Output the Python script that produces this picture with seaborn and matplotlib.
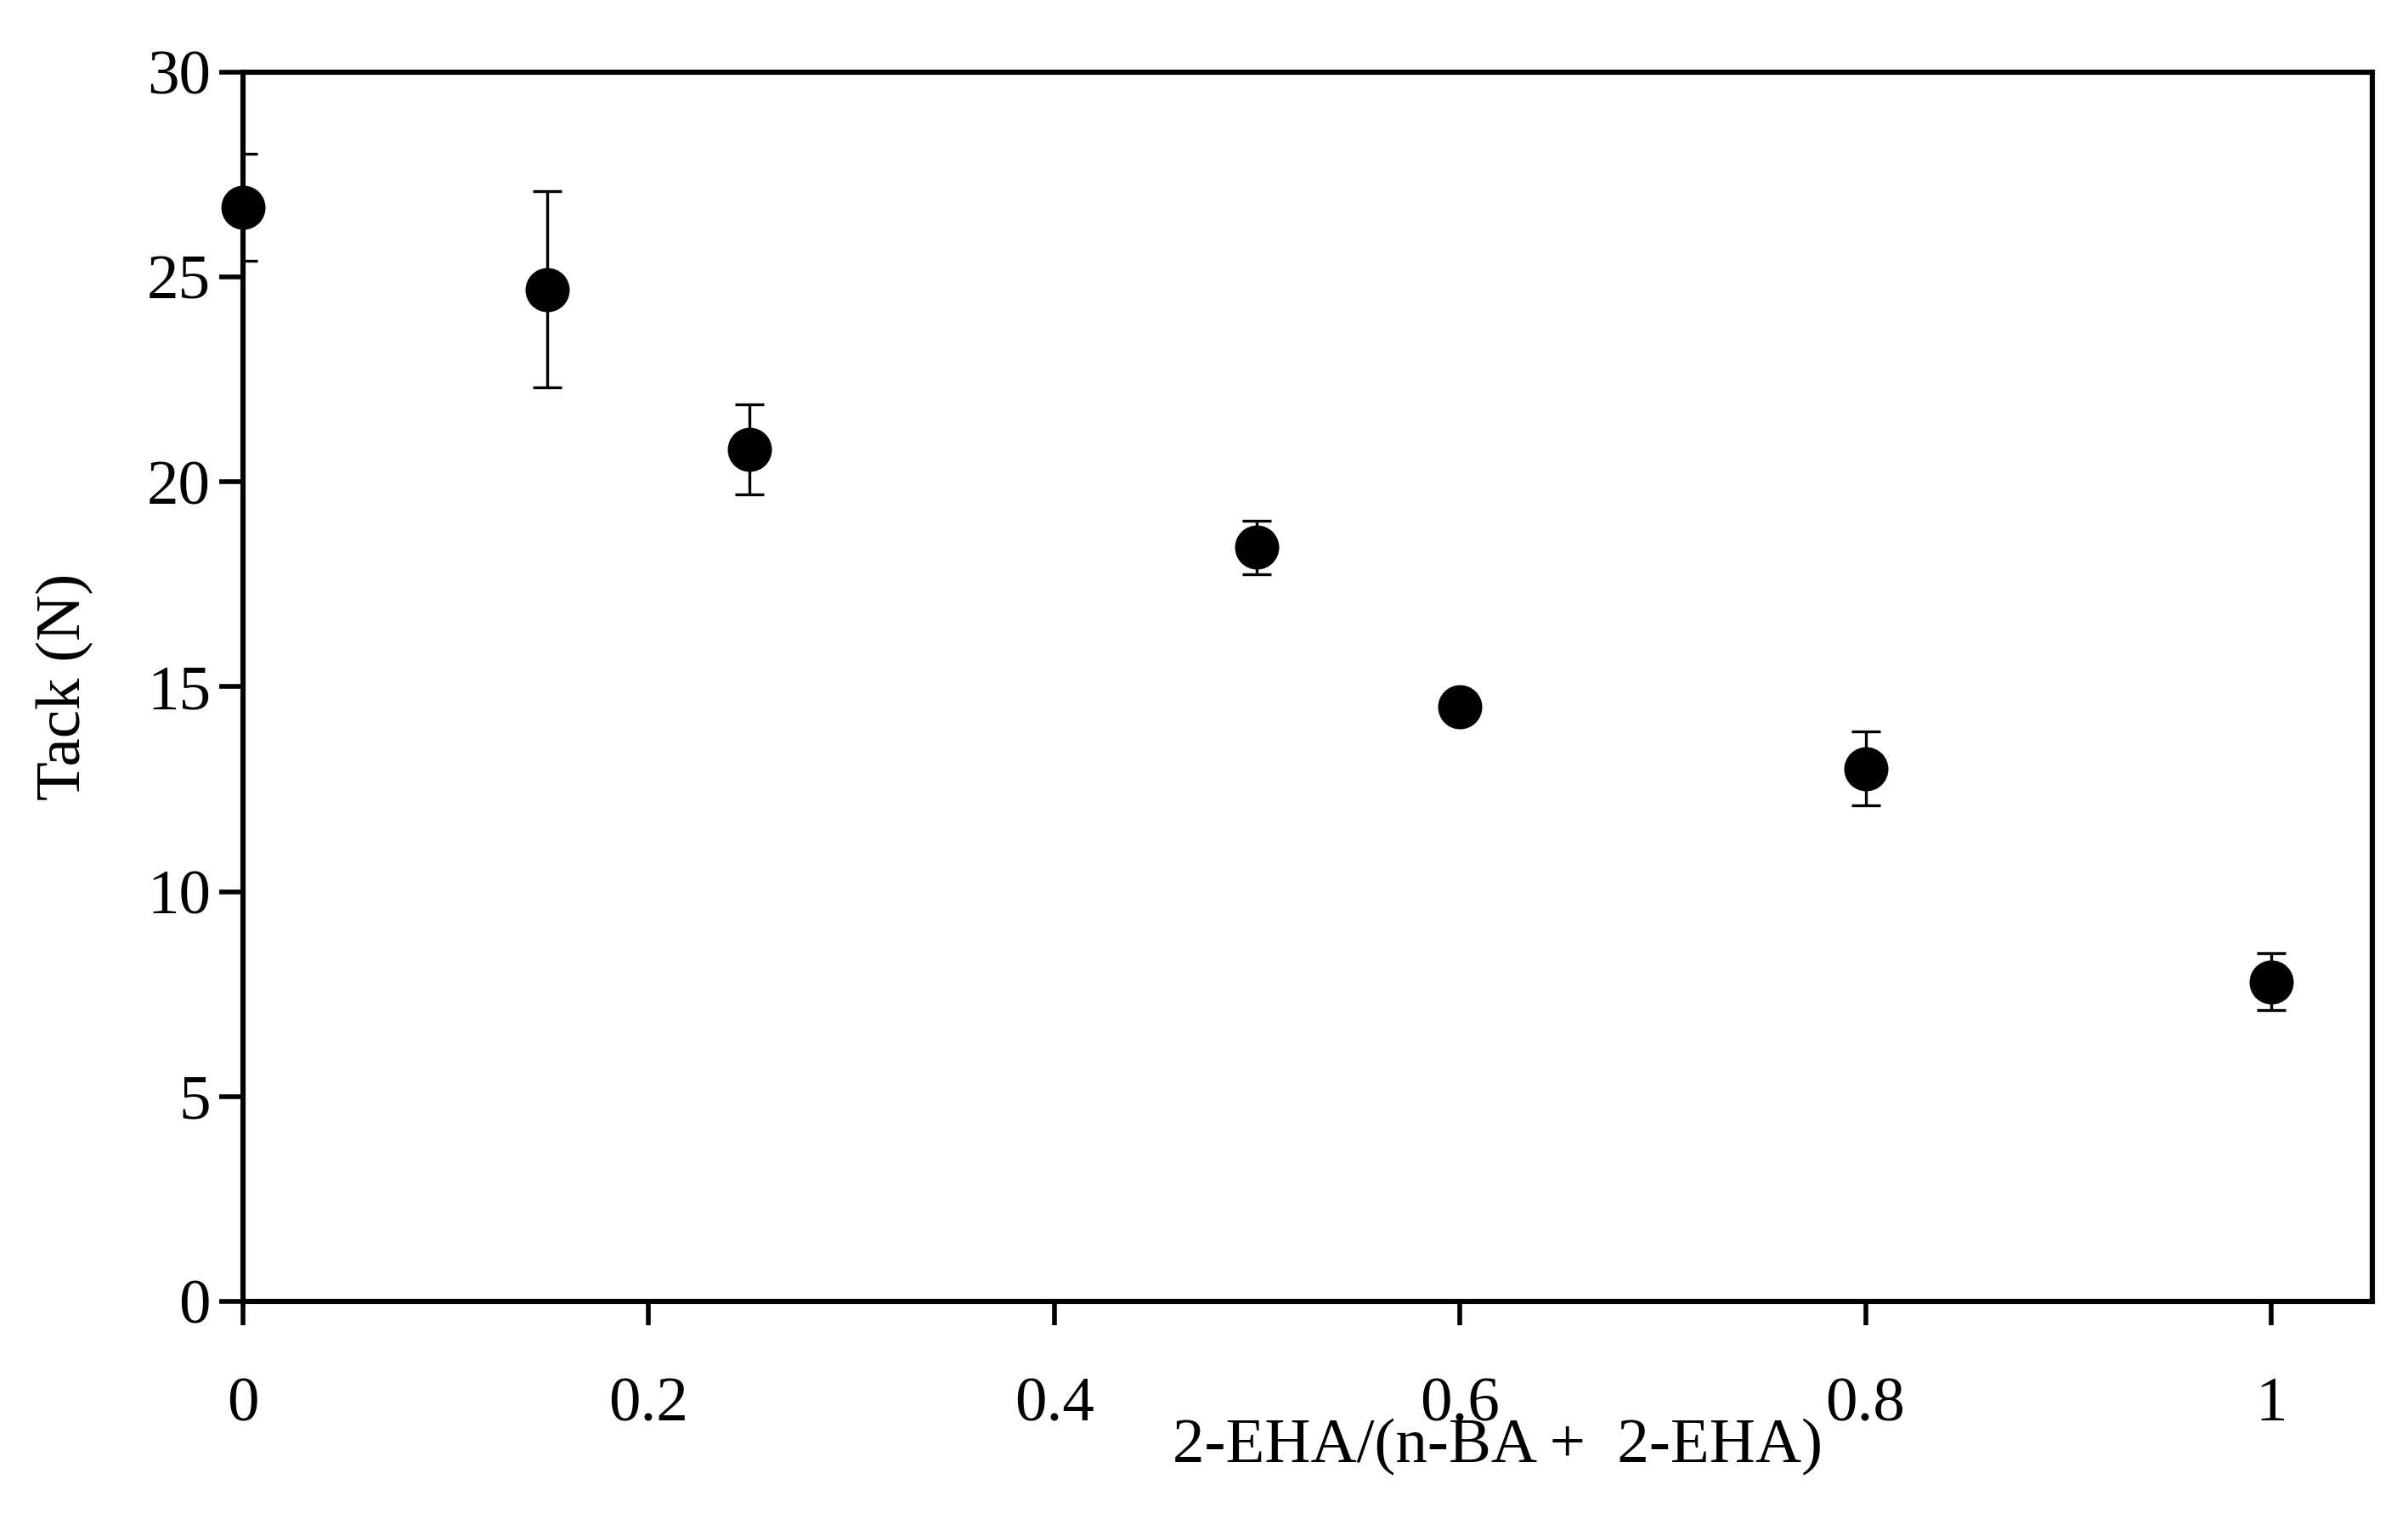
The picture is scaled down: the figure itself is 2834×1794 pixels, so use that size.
import numpy as np
import pandas as pd
import matplotlib.pyplot as plt
import seaborn as sns

# --- data ---
ratio = [0.0, 0.15, 0.25, 0.5, 0.6, 0.8, 1.0]
tack = [26.7, 24.7, 20.8, 18.4, 14.5, 13.0, 7.8]
tack_err = [1.3, 2.4, 1.1, 0.65, 0.3, 0.9, 0.7]

df = pd.DataFrame({'ratio': ratio, 'tack': tack, 'err': tack_err})

sns.set_style('ticks')
plt.rcParams['font.family'] = ['Liberation Serif', 'DejaVu Serif']
plt.rcParams['text.color'] = 'black'
plt.rcParams['xtick.color'] = 'black'
plt.rcParams['ytick.color'] = 'black'
plt.rcParams['axes.labelcolor'] = 'black'

fig = plt.figure(figsize=(14.17, 8.97), dpi=200)
ax = fig.add_axes([158 / 1568, 1 - 847 / 992, (1545 - 158) / 1568, (847 - 47) / 992])

ax.errorbar(df['ratio'], df['tack'], yerr=df['err'], fmt='none',
            ecolor='black', elinewidth=1.2, capsize=6, capthick=1.2)
sns.scatterplot(data=df, x='ratio', y='tack', ax=ax, color='black',
                s=300, edgecolor='black', zorder=3, clip_on=False)

ax.set_xlim(0, 1.05)
ax.set_ylim(0, 30)
ax.set_xticks([0, 0.2, 0.4, 0.6, 0.8, 1])
ax.set_xticklabels(['0', '0.2', '0.4', '0.6', '0.8', '1'])
ax.set_yticks(range(0, 31, 5))
ax.tick_params(axis='both', labelsize=27, width=2, length=10, direction='out')
ax.tick_params(axis='x', pad=22)
for s in ax.spines.values():
    s.set_linewidth(2.2)
    s.set_color('black')

ax.set_xlabel('2-EHA/(n-BA +  2-EHA)', fontsize=27)
ax.xaxis.set_label_coords(0.589, -0.095)
ax.set_ylabel('Tack (N)', fontsize=27)
ax.yaxis.set_label_coords(-0.07, 0.5)

fig.savefig('out.png', dpi=200)
